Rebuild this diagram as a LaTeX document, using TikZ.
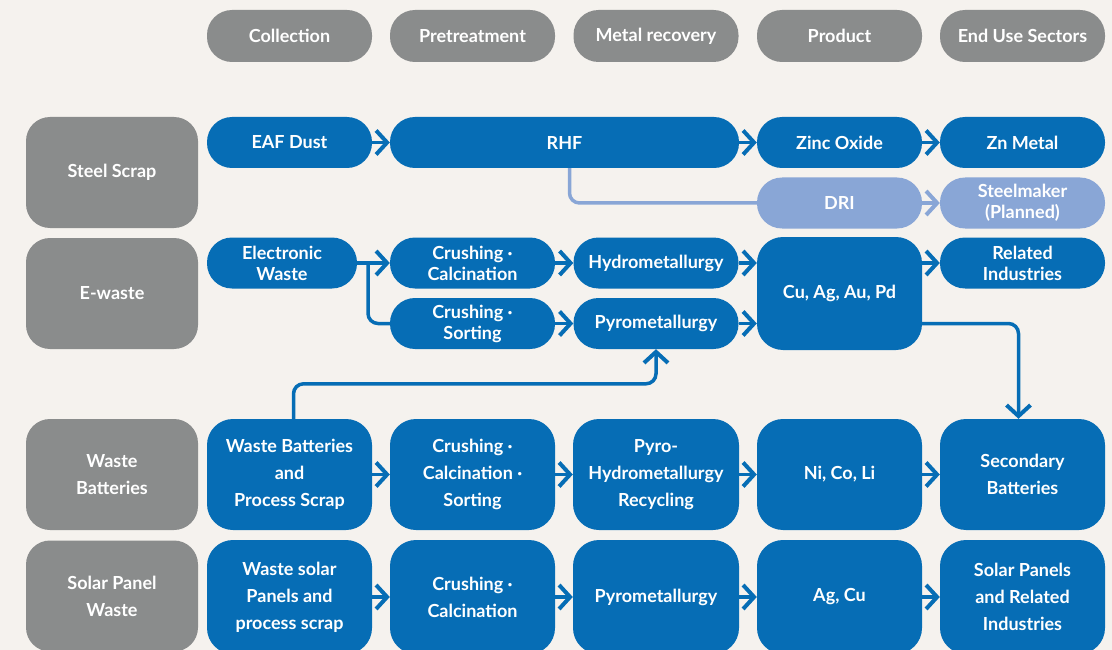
\documentclass[tikz,border=0pt]{standalone}
\usepackage{fontspec}
\setmainfont{Lato}
\usetikzlibrary{arrows.meta}

\definecolor{bgcol}{HTML}{F5F2EE}
\definecolor{zblue}{HTML}{066DB5}
\definecolor{zlight}{HTML}{89A6D6}
\definecolor{zgray}{HTML}{8A8C8C}

\begin{document}
\begin{tikzpicture}[x=1pt, y=-1pt,
    head/.style={fill=zgray, text=white, rounded corners=25pt, minimum width=165pt, minimum height=52pt,
        font=\fontsize{18}{20}\selectfont\bfseries},
    rowlabel/.style={fill=zgray, text=white, rounded corners=24pt, minimum width=172pt, minimum height=111pt,
        align=center, font=\fontsize{18}{27}\selectfont\bfseries},
    pill/.style={fill=zblue, text=white, rounded corners=25pt, minimum width=165pt, minimum height=51pt,
        align=center, font=\fontsize{18}{21}\selectfont\bfseries},
    lightpill/.style={pill, fill=zlight},
    tall/.style={fill=zblue, text=white, rounded corners=26pt, minimum width=165pt, minimum height=111pt,
        align=center, font=\fontsize{18}{27}\selectfont\bfseries},
    link/.style={zblue, line width=3.5pt, -{Straight Barb[length=11pt, width=24pt, line width=4pt]}},
    wire/.style={zblue, line width=3.5pt, rounded corners=10pt},
    lightwire/.style={zlight, line width=3.5pt, rounded corners=10pt},
    lightlink/.style={link, zlight}]

    % background
    \fill[bgcol] (0,0) rectangle (1112,650);
    \useasboundingbox (0,0) rectangle (1112,650);

    % column heads
    \node[head] (hcol) at (289.5,36) {Collection};
    \node[head] (hpre) at (472.5,36) {Pretreatment};
    \node[head] (hmet) at (656,36) {Metal recovery};
    \node[head] (hprod) at (839.5,36) {Product};
    \node[head] (hend) at (1022.5,36) {End Use Sectors};

    % row labels
    \node[rowlabel] (steel) at (112,172.5) {Steel Scrap};
    \node[rowlabel] (ewaste) at (112,293.5) {E-waste};
    \node[rowlabel] (batt) at (112,474.5) {Waste\\Batteries};
    \node[rowlabel] (solar) at (112,596) {Solar Panel\\Waste};

    % steel scrap
    \node[pill] (eaf) at (289.5,142.5) {EAF Dust};
    \node[pill, minimum width=349pt] (rhf) at (564.5,142.5) {RHF};
    \node[pill] (zno) at (839.5,142.5) {Zinc Oxide};
    \node[pill] (zn) at (1022.5,142.5) {Zn Metal};
    \node[lightpill] (dri) at (839.5,203) {DRI};
    \node[lightpill] (steelmaker) at (1022.5,203) {Steelmaker\\(Planned)};

    \draw[link] (eaf) -- (rhf);
    \draw[link] (rhf.east |- zno) -- (zno);
    \draw[link] (zno) -- (zn);
    \draw[lightwire] ([xshift=5pt]rhf.south) |- (dri.west);
    \draw[lightlink] (dri) -- (steelmaker);

    % e-waste
    \node[pill, minimum width=150pt] (ew) at (282,263) {Electronic\\Waste};
    \node[pill] (crcal) at (472.5,263) {Crushing ·\\Calcination};
    \node[pill] (crsort) at (472.5,323.5) {Crushing ·\\Sorting};
    \node[pill] (hydro) at (656,263) {Hydrometallurgy};
    \node[pill] (pyro) at (656,323.5) {Pyrometallurgy};
    \node[pill, rounded corners=26pt, minimum height=113pt] (cu) at (839.5,293.5) {Cu, Ag, Au, Pd};
    \node[pill] (related) at (1022.5,263) {Related\\Industries};

    \coordinate (split) at (368,263);
    \draw[link] (ew) -- (crcal);
    \draw[wire] (split) |- (crsort.west);
    \draw[link] (crcal) -- (hydro);
    \draw[link] (crsort) -- (pyro);
    \draw[link] (hydro) -- (hydro -| cu.west);
    \draw[link] (pyro) -- (pyro -| cu.west);
    \draw[link] (cu.east |- related) -- (related);

    % waste batteries
    \node[tall] (wb) at (289.5,474.5) {Waste Batteries\\and\\Process Scrap};
    \node[tall] (wbpre) at (472.5,474.5) {Crushing ·\\Calcination ·\\Sorting};
    \node[tall, minimum width=166pt] (wbrec) at (656,474.5) {Pyro-\\Hydrometallurgy\\Recycling};
    \node[tall] (ncl) at (839.5,474.5) {Ni, Co, Li};
    \node[tall] (secbat) at (1022.5,474.5) {Secondary\\Batteries};

    \draw[link] (wb) -- (wbpre);
    \draw[link] (wbpre) -- (wbrec);
    \draw[link] (wbrec) -- (ncl);
    \draw[link] (ncl) -- (secbat);
    \draw[link, rounded corners=10pt] ([xshift=4pt]wb.north) -- ++(0,-35) -| (pyro.south);
    \draw[link, rounded corners=10pt] ([yshift=-30pt]cu.east) -| ([xshift=-4pt]secbat.north);

    % solar panel waste
    \node[tall, minimum height=114pt] (sp) at (289.5,597) {Waste solar\\Panels and\\process scrap};
    \node[tall, minimum height=114pt] (sppre) at (472.5,597) {Crushing ·\\Calcination};
    \node[tall, minimum height=114pt, minimum width=166pt] (sprec) at (656,597) {Pyrometallurgy};
    \node[tall, minimum height=114pt] (agcu) at (839.5,597) {Ag, Cu};
    \node[tall, minimum height=114pt] (spend) at (1022.5,597) {Solar Panels\\and Related\\Industries};

    \draw[link] (sp) -- (sppre);
    \draw[link] (sppre) -- (sprec);
    \draw[link] (sprec) -- (agcu);
    \draw[link] (agcu) -- (spend);
\end{tikzpicture}
\end{document}
